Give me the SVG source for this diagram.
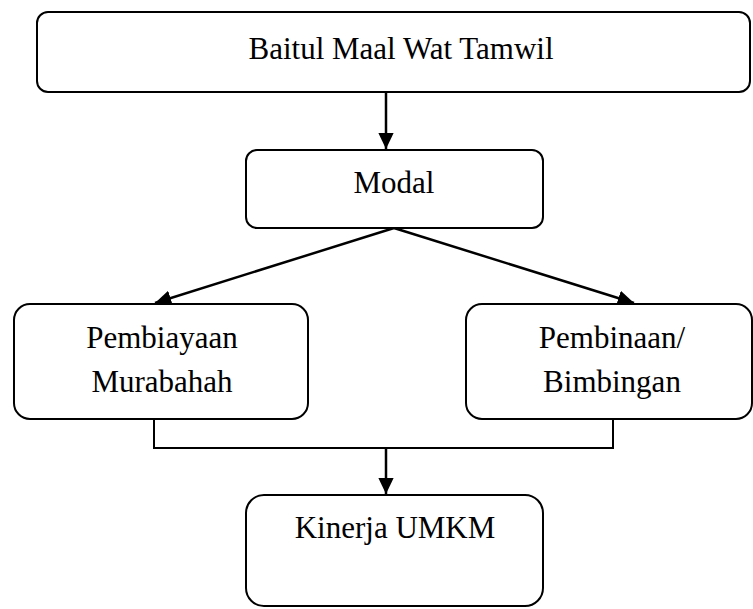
<svg xmlns="http://www.w3.org/2000/svg" width="753" height="609" viewBox="0 0 753 609">
<style>
.box{fill:#fff;stroke:#000;stroke-width:2}
.t{font-family:"Liberation Serif","Times New Roman",serif;font-size:31px;fill:#000;text-anchor:middle}
.c{stroke:#000;stroke-width:2.5;fill:none}
.l{stroke:#000;stroke-width:2;fill:none}
</style>
<defs>
<marker id="ah" viewBox="0 0 10 10" refX="10" refY="5" markerWidth="6.5" markerHeight="6.2" markerUnits="strokeWidth" orient="auto" preserveAspectRatio="none">
<path d="M0,0 L10,5 L0,10 z" fill="#000"/>
</marker>
</defs>
<rect width="753" height="609" fill="#fff"/>
<g id="connectors">
<line class="c" x1="386" y1="92" x2="386" y2="149" marker-end="url(#ah)"/>
<line class="c" x1="394" y1="228" x2="155" y2="303" marker-end="url(#ah)"/>
<line class="c" x1="394" y1="228" x2="634" y2="303" marker-end="url(#ah)"/>
<polyline class="l" points="154,419 154,448 613,448 613,419"/>
<line class="c" x1="386" y1="448" x2="386" y2="494" marker-end="url(#ah)"/>
</g>
<g id="bmt">
<rect class="box" x="37" y="12" width="713" height="80" rx="11"/>
<text class="t" x="401" y="59">Baitul Maal Wat Tamwil</text>
</g>
<g id="modal">
<rect class="box" x="246" y="150" width="297" height="78" rx="11"/>
<text class="t" x="394" y="193">Modal</text>
</g>
<g id="pembiayaan">
<rect class="box" x="14" y="304" width="294" height="115" rx="16"/>
<text class="t" x="162" y="348">Pembiayaan</text>
<text class="t" x="162" y="392">Murabahah</text>
</g>
<g id="pembinaan">
<rect class="box" x="466" y="304" width="286" height="115" rx="16"/>
<text class="t" x="612" y="348">Pembinaan/</text>
<text class="t" x="612" y="392">Bimbingan</text>
</g>
<g id="kinerja">
<rect class="box" x="246" y="495" width="297" height="111" rx="18"/>
<text class="t" x="395" y="538">Kinerja UMKM</text>
</g>
</svg>
